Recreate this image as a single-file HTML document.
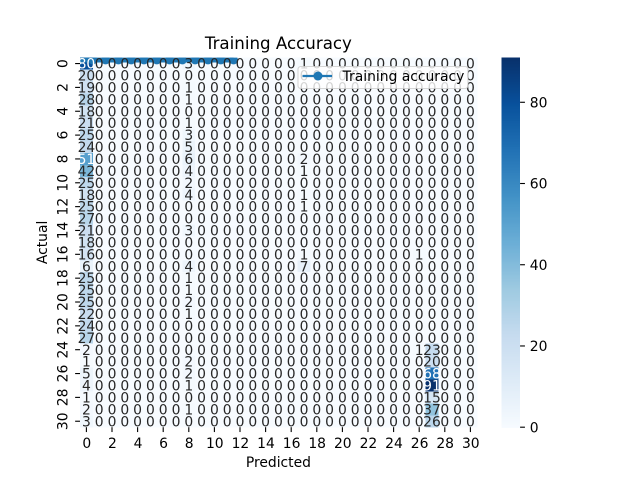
<!DOCTYPE html>
<html>
<head>
<meta charset="utf-8">
<title>Training Accuracy</title>
<style>
html,body{margin:0;padding:0;background:#fff;width:640px;height:480px;overflow:hidden}
svg{display:block}
text{font-family:"DejaVu Sans","Liberation Sans",sans-serif;fill:#000}
</style>
</head>
<body>
<svg id="chart" xmlns="http://www.w3.org/2000/svg" width="640" height="480" viewBox="0 0 640 480"></svg>
<script>
const confusionMatrix = [
[80,0,0,0,0,0,0,0,3,0,0,0,0,0,0,0,0,1,0,0,0,0,0,0,0,0,0,0,0,0,0],
[20,0,0,0,0,0,0,0,0,0,0,0,0,0,0,0,0,0,0,0,0,0,0,0,0,0,0,0,0,0,0],
[19,0,0,0,0,0,0,0,1,0,0,0,0,0,0,0,0,0,0,0,0,0,0,0,0,0,0,0,0,0,0],
[28,0,0,0,0,0,0,0,1,0,0,0,0,0,0,0,0,0,0,0,0,0,0,0,0,0,0,0,0,0,0],
[18,0,0,0,0,0,0,0,0,0,0,0,0,0,0,0,0,0,0,0,0,0,0,0,0,0,0,0,0,0,0],
[21,0,0,0,0,0,0,0,1,0,0,0,0,0,0,0,0,0,0,0,0,0,0,0,0,0,0,0,0,0,0],
[25,0,0,0,0,0,0,0,3,0,0,0,0,0,0,0,0,0,0,0,0,0,0,0,0,0,0,0,0,0,0],
[24,0,0,0,0,0,0,0,5,0,0,0,0,0,0,0,0,0,0,0,0,0,0,0,0,0,0,0,0,0,0],
[51,0,0,0,0,0,0,0,6,0,0,0,0,0,0,0,0,2,0,0,0,0,0,0,0,0,0,0,0,0,0],
[42,0,0,0,0,0,0,0,4,0,0,0,0,0,0,0,0,1,0,0,0,0,0,0,0,0,0,0,0,0,0],
[25,0,0,0,0,0,0,0,2,0,0,0,0,0,0,0,0,0,0,0,0,0,0,0,0,0,0,0,0,0,0],
[18,0,0,0,0,0,0,0,4,0,0,0,0,0,0,0,0,1,0,0,0,0,0,0,0,0,0,0,0,0,0],
[25,0,0,0,0,0,0,0,0,0,0,0,0,0,0,0,0,1,0,0,0,0,0,0,0,0,0,0,0,0,0],
[27,0,0,0,0,0,0,0,0,0,0,0,0,0,0,0,0,0,0,0,0,0,0,0,0,0,0,0,0,0,0],
[21,0,0,0,0,0,0,0,3,0,0,0,0,0,0,0,0,0,0,0,0,0,0,0,0,0,0,0,0,0,0],
[18,0,0,0,0,0,0,0,0,0,0,0,0,0,0,0,0,0,0,0,0,0,0,0,0,0,0,0,0,0,0],
[16,0,0,0,0,0,0,0,0,0,0,0,0,0,0,0,0,1,0,0,0,0,0,0,0,0,1,0,0,0,0],
[6,0,0,0,0,0,0,0,4,0,0,0,0,0,0,0,0,7,0,0,0,0,0,0,0,0,0,0,0,0,0],
[25,0,0,0,0,0,0,0,1,0,0,0,0,0,0,0,0,0,0,0,0,0,0,0,0,0,0,0,0,0,0],
[25,0,0,0,0,0,0,0,1,0,0,0,0,0,0,0,0,0,0,0,0,0,0,0,0,0,0,0,0,0,0],
[25,0,0,0,0,0,0,0,2,0,0,0,0,0,0,0,0,0,0,0,0,0,0,0,0,0,0,0,0,0,0],
[22,0,0,0,0,0,0,0,1,0,0,0,0,0,0,0,0,0,0,0,0,0,0,0,0,0,0,0,0,0,0],
[24,0,0,0,0,0,0,0,0,0,0,0,0,0,0,0,0,0,0,0,0,0,0,0,0,0,0,0,0,0,0],
[27,0,0,0,0,0,0,0,0,0,0,0,0,0,0,0,0,0,0,0,0,0,0,0,0,0,0,0,0,0,0],
[2,0,0,0,0,0,0,0,0,0,0,0,0,0,0,0,0,0,0,0,0,0,0,0,0,0,1,23,0,0,0],
[1,0,0,0,0,0,0,0,2,0,0,0,0,0,0,0,0,0,0,0,0,0,0,0,0,0,0,20,0,0,0],
[5,0,0,0,0,0,0,0,2,0,0,0,0,0,0,0,0,0,0,0,0,0,0,0,0,0,0,68,0,0,0],
[4,0,0,0,0,0,0,0,1,0,0,0,0,0,0,0,0,0,0,0,0,0,0,0,0,0,0,91,0,0,0],
[1,0,0,0,0,0,0,0,0,0,0,0,0,0,0,0,0,0,0,0,0,0,0,0,0,0,0,15,0,0,0],
[2,0,0,0,0,0,0,0,1,0,0,0,0,0,0,0,0,0,0,0,0,0,0,0,0,0,0,37,0,0,0],
[3,0,0,0,0,0,0,0,0,0,0,0,0,0,0,0,0,0,0,0,0,0,0,0,0,0,0,26,0,0,0]
];
const epochs = [0,1,2,3,4,5,6,7,8,9,10,11,12];
const trainingAccuracy = [0.2,0.2,0.2,0.2,0.2,0.2,0.2,0.2,0.2,0.2,0.2,0.2,0.2];
const xTickLabels = [0,2,4,6,8,10,12,14,16,18,20,22,24,26,28,30];
const yTickLabels = [0,2,4,6,8,10,12,14,16,18,20,22,24,26,28,30];
const colorbarTicks = [0,20,40,60,80];
const blues = ["#f7fbff","#deebf7","#c6dbef","#9ecae1","#6baed6","#4292c6","#2171b5","#08519c","#08306b"];

const svg = document.getElementById('chart');
const NS = 'http://www.w3.org/2000/svg';
const plot = {left:80, right:476.8, top:57.6, bottom:427.2};
const nRows = confusionMatrix.length;
const nCols = confusionMatrix[0].length;
const vMax = Math.max(...confusionMatrix.flat());
const FS = 13.89;

function xScale(v){ return plot.left + v * (plot.right - plot.left) / nCols; }
function yScale(v){ return plot.top + v * (plot.bottom - plot.top) / nRows; }
function cbScale(v){ return plot.bottom - v / vMax * (plot.bottom - plot.top); }

function hexRgb(h){ return [1,3,5].map(i => parseInt(h.substr(i,2),16)); }
function colorRgb(t){
  const p = Math.min(Math.max(t,0),1) * (blues.length - 1);
  const i = Math.min(Math.floor(p), blues.length - 2);
  const a = hexRgb(blues[i]), b = hexRgb(blues[i+1]);
  return a.map((c,k) => Math.round(c + (b[k]-c) * (p-i)));
}
function css(rgb){ return 'rgb(' + rgb.join(',') + ')'; }
function luminance(rgb){
  const l = rgb.map(c => { c/=255; return c <= 0.03928 ? c/12.92 : Math.pow((c+0.055)/1.055, 2.4); });
  return 0.2126*l[0] + 0.7152*l[1] + 0.0722*l[2];
}
function make(tag, attrs, parent){
  const el = document.createElementNS(NS, tag);
  for (const k in attrs) el.setAttribute(k, attrs[k]);
  (parent || svg).appendChild(el);
  return el;
}

const defs = make('defs', {});
const clip = make('clipPath', {id:'plot-clip'}, defs);
make('rect', {x:plot.left, y:plot.top, width:plot.right-plot.left, height:plot.bottom-plot.top}, clip);

/* heatmap cells */
const cellGroup = make('g', {'shape-rendering':'crispEdges'});


confusionMatrix.forEach((row, r) => row.forEach((v, c) => {
  const cell = make('rect', {
    x: xScale(c), y: yScale(r),
    width: xScale(c+1) - xScale(c) + 0.5,
    height: yScale(r+1) - yScale(r) + 0.5,
    fill: css(colorRgb(v / vMax))
  }, cellGroup);
  
  
}));

/* accuracy line, under the annotations */
const lineGroup = make('g', {'clip-path':'url(#plot-clip)'});


const accLine = make('polyline', {
  points: epochs.map((e,i) => xScale(e) + ',' + yScale(trainingAccuracy[i])).join(' '),
  fill:'none', stroke:'#1f77b4', 'stroke-width':5
}, lineGroup);


epochs.forEach((e,i) => {
  const pt = make('circle', {cx:xScale(e), cy:yScale(trainingAccuracy[i]), r:4.4, fill:'#1f77b4'}, lineGroup);
  
  
});

/* annotations */
const annGroup = make('g', {'font-size':FS, 'text-anchor':'middle'});


confusionMatrix.forEach((row, r) => row.forEach((v, c) => {
  const rgb = colorRgb(v / vMax);
  const t = make('text', {x:xScale(c+0.5), y:yScale(r+0.5)+5.05}, annGroup);
  t.setAttribute('style', 'fill:' + (luminance(rgb) < 0.408 ? '#fff' : '#262626'));
  
  
  t.textContent = v;
}));

/* x axis */
const xAxis = make('g', {});


xTickLabels.forEach(v => {
  const x = xScale(v + 0.5);
  const tick = make('line', {x1:x, x2:x, y1:plot.bottom, y2:plot.bottom+4.86, stroke:'#000', 'stroke-width':1.11}, xAxis);
  
  
  const lab = make('text', {x:x+0.4, y:plot.bottom+20.8, 'font-size':FS, 'text-anchor':'middle'}, xAxis);
  
  
  lab.textContent = v;
});

/* y axis */
const yAxis = make('g', {});


yTickLabels.forEach(v => {
  const y = yScale(v + 0.5);
  const tick = make('line', {x1:plot.left-4.86, x2:plot.left, y1:y, y2:y, stroke:'#000', 'stroke-width':1.11}, yAxis);
  
  
  const lab = make('text', {x:0, y:0, 'font-size':FS, 'text-anchor':'middle', transform:'translate(67.5,' + y + ') rotate(-90)'}, yAxis);
  
  
  lab.textContent = v;
});

/* colorbar */
const cbLeft = 501.6, cbWidth = 18.48;
const cbGroup = make('g', {});


const cbSteps = 256;
const cbBars = make('g', {'shape-rendering':'crispEdges'}, cbGroup);
for (let i = 0; i < cbSteps; i++) {
  const y0 = cbScale((i+1) / cbSteps * vMax), y1 = cbScale(i / cbSteps * vMax);
  make('rect', {x:cbLeft, y:y0, width:cbWidth, height:y1-y0+0.6, fill:css(colorRgb((i+0.5)/cbSteps))}, cbBars);
}
colorbarTicks.forEach(v => {
  const y = cbScale(v);
  const tick = make('line', {x1:cbLeft+cbWidth, x2:cbLeft+cbWidth+4.86, y1:y, y2:y, stroke:'#000', 'stroke-width':1.11}, cbGroup);
  
  
  const lab = make('text', {x:cbLeft+cbWidth+9.72, y:y+5.05, 'font-size':FS}, cbGroup);
  
  
  lab.textContent = v;
});

/* titles */
const title = make('text', {x:(plot.left+plot.right)/2, y:49, 'font-size':16.67, 'text-anchor':'middle'});


title.textContent = 'Training Accuracy';
const xTitle = make('text', {x:(plot.left+plot.right)/2, y:467, 'font-size':FS, 'text-anchor':'middle'});


xTitle.textContent = 'Predicted';
const yTitle = make('text', {x:0, y:0, 'font-size':FS, 'text-anchor':'middle', transform:'translate(47,' + (plot.top+plot.bottom)/2 + ') rotate(-90)'});


yTitle.textContent = 'Actual';

/* legend */
const legend = make('g', {});


make('rect', {x:298, y:66.5, width:170, height:22, rx:2.8, fill:'#fff', 'fill-opacity':0.8, stroke:'#ccc', 'stroke-opacity':0.8, 'stroke-width':1.11}, legend);
const legLine = make('line', {x1:302.5, x2:332, y1:76, y2:76, stroke:'#1f77b4', 'stroke-width':2.2}, legend);


const legDot = make('circle', {cx:318, cy:76, r:4.5, fill:'#1f77b4'}, legend);


const legText = make('text', {x:342.6, y:81, 'font-size':FS}, legend);


legText.textContent = 'Training accuracy';
</script>
</body>
</html>
